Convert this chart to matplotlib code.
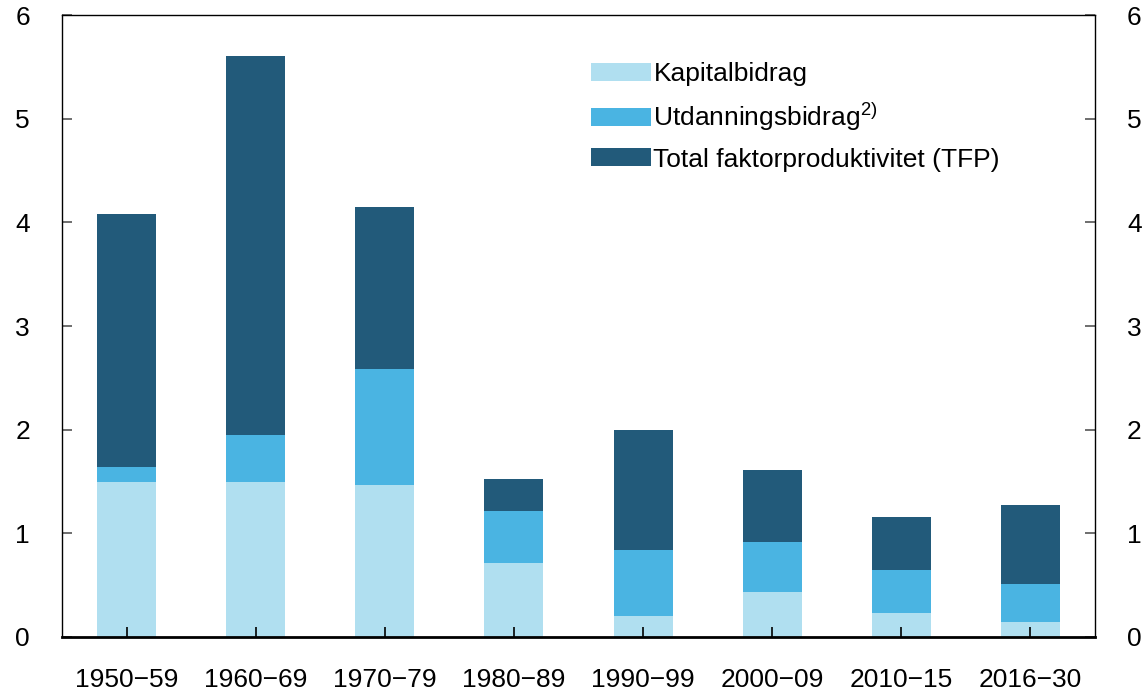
import matplotlib
matplotlib.use("Agg")
import matplotlib.pyplot as plt
import numpy as np

plt.rcParams["font.family"] = ["Liberation Sans", "DejaVu Sans"]
plt.rcParams["mathtext.fontset"] = "custom"
plt.rcParams["mathtext.rm"] = "Liberation Sans"

periods = ["1950\u221259", "1960\u221269", "1970\u221279", "1980\u221289",
           "1990\u221299", "2000\u221209", "2010\u221215", "2016\u221230"]
# cumulative tops
kapital = [1.50, 1.50, 1.47, 0.71, 0.20, 0.43, 0.23, 0.14]
utd_top = [1.645, 1.95, 2.59, 1.22, 0.835, 0.92, 0.65, 0.51]
total = [4.08, 5.61, 4.15, 1.52, 2.00, 1.61, 1.16, 1.27]

kap = np.array(kapital)
utd = np.array(utd_top) - kap
tfp = np.array(total) - np.array(utd_top)

c_kap = "#b0dff0"
c_utd = "#4ab4e2"
c_tfp = "#225a7a"

fig = plt.figure(figsize=(11.43, 6.92), dpi=100)
ax = fig.add_axes([0.0542, 0.0795, 0.958 - 0.0542, 0.978 - 0.0795])

x = np.arange(len(periods))
w = 0.457
ax.bar(x, kap, w, color=c_kap, label="Kapitalbidrag")
ax.bar(x, utd, w, bottom=kap, color=c_utd, label="Utdanningsbidrag$^{\\mathrm{2)}}$")
ax.bar(x, tfp, w, bottom=kap + utd, color=c_tfp, label="Total faktorproduktivitet (TFP)")

ax.set_xlim(-0.5, 7.5)
ax.set_ylim(0, 6)
ax.set_xticks(x)
ax.set_xticklabels(periods)
ax.set_yticks(range(0, 7))

ax.tick_params(axis="x", direction="in", length=7, width=1.2, pad=22, labelsize=19, color="black")
ax.tick_params(axis="y", direction="in", length=7, width=1.2, pad=23, labelsize=19,
               color="#555555", right=True, labelright=True)

for s in ["left", "right", "top"]:
    ax.spines[s].set_linewidth(1.0)
ax.spines["bottom"].set_linewidth(2.0)

ax.legend(loc="upper left", bbox_to_anchor=(0.512, 0.925), frameon=False, fontsize=19,
          handlelength=2.27, handleheight=0.68, handletextpad=0.1, labelspacing=0.55,
          borderaxespad=0, borderpad=0)

fig.savefig("out.png", dpi=100)
